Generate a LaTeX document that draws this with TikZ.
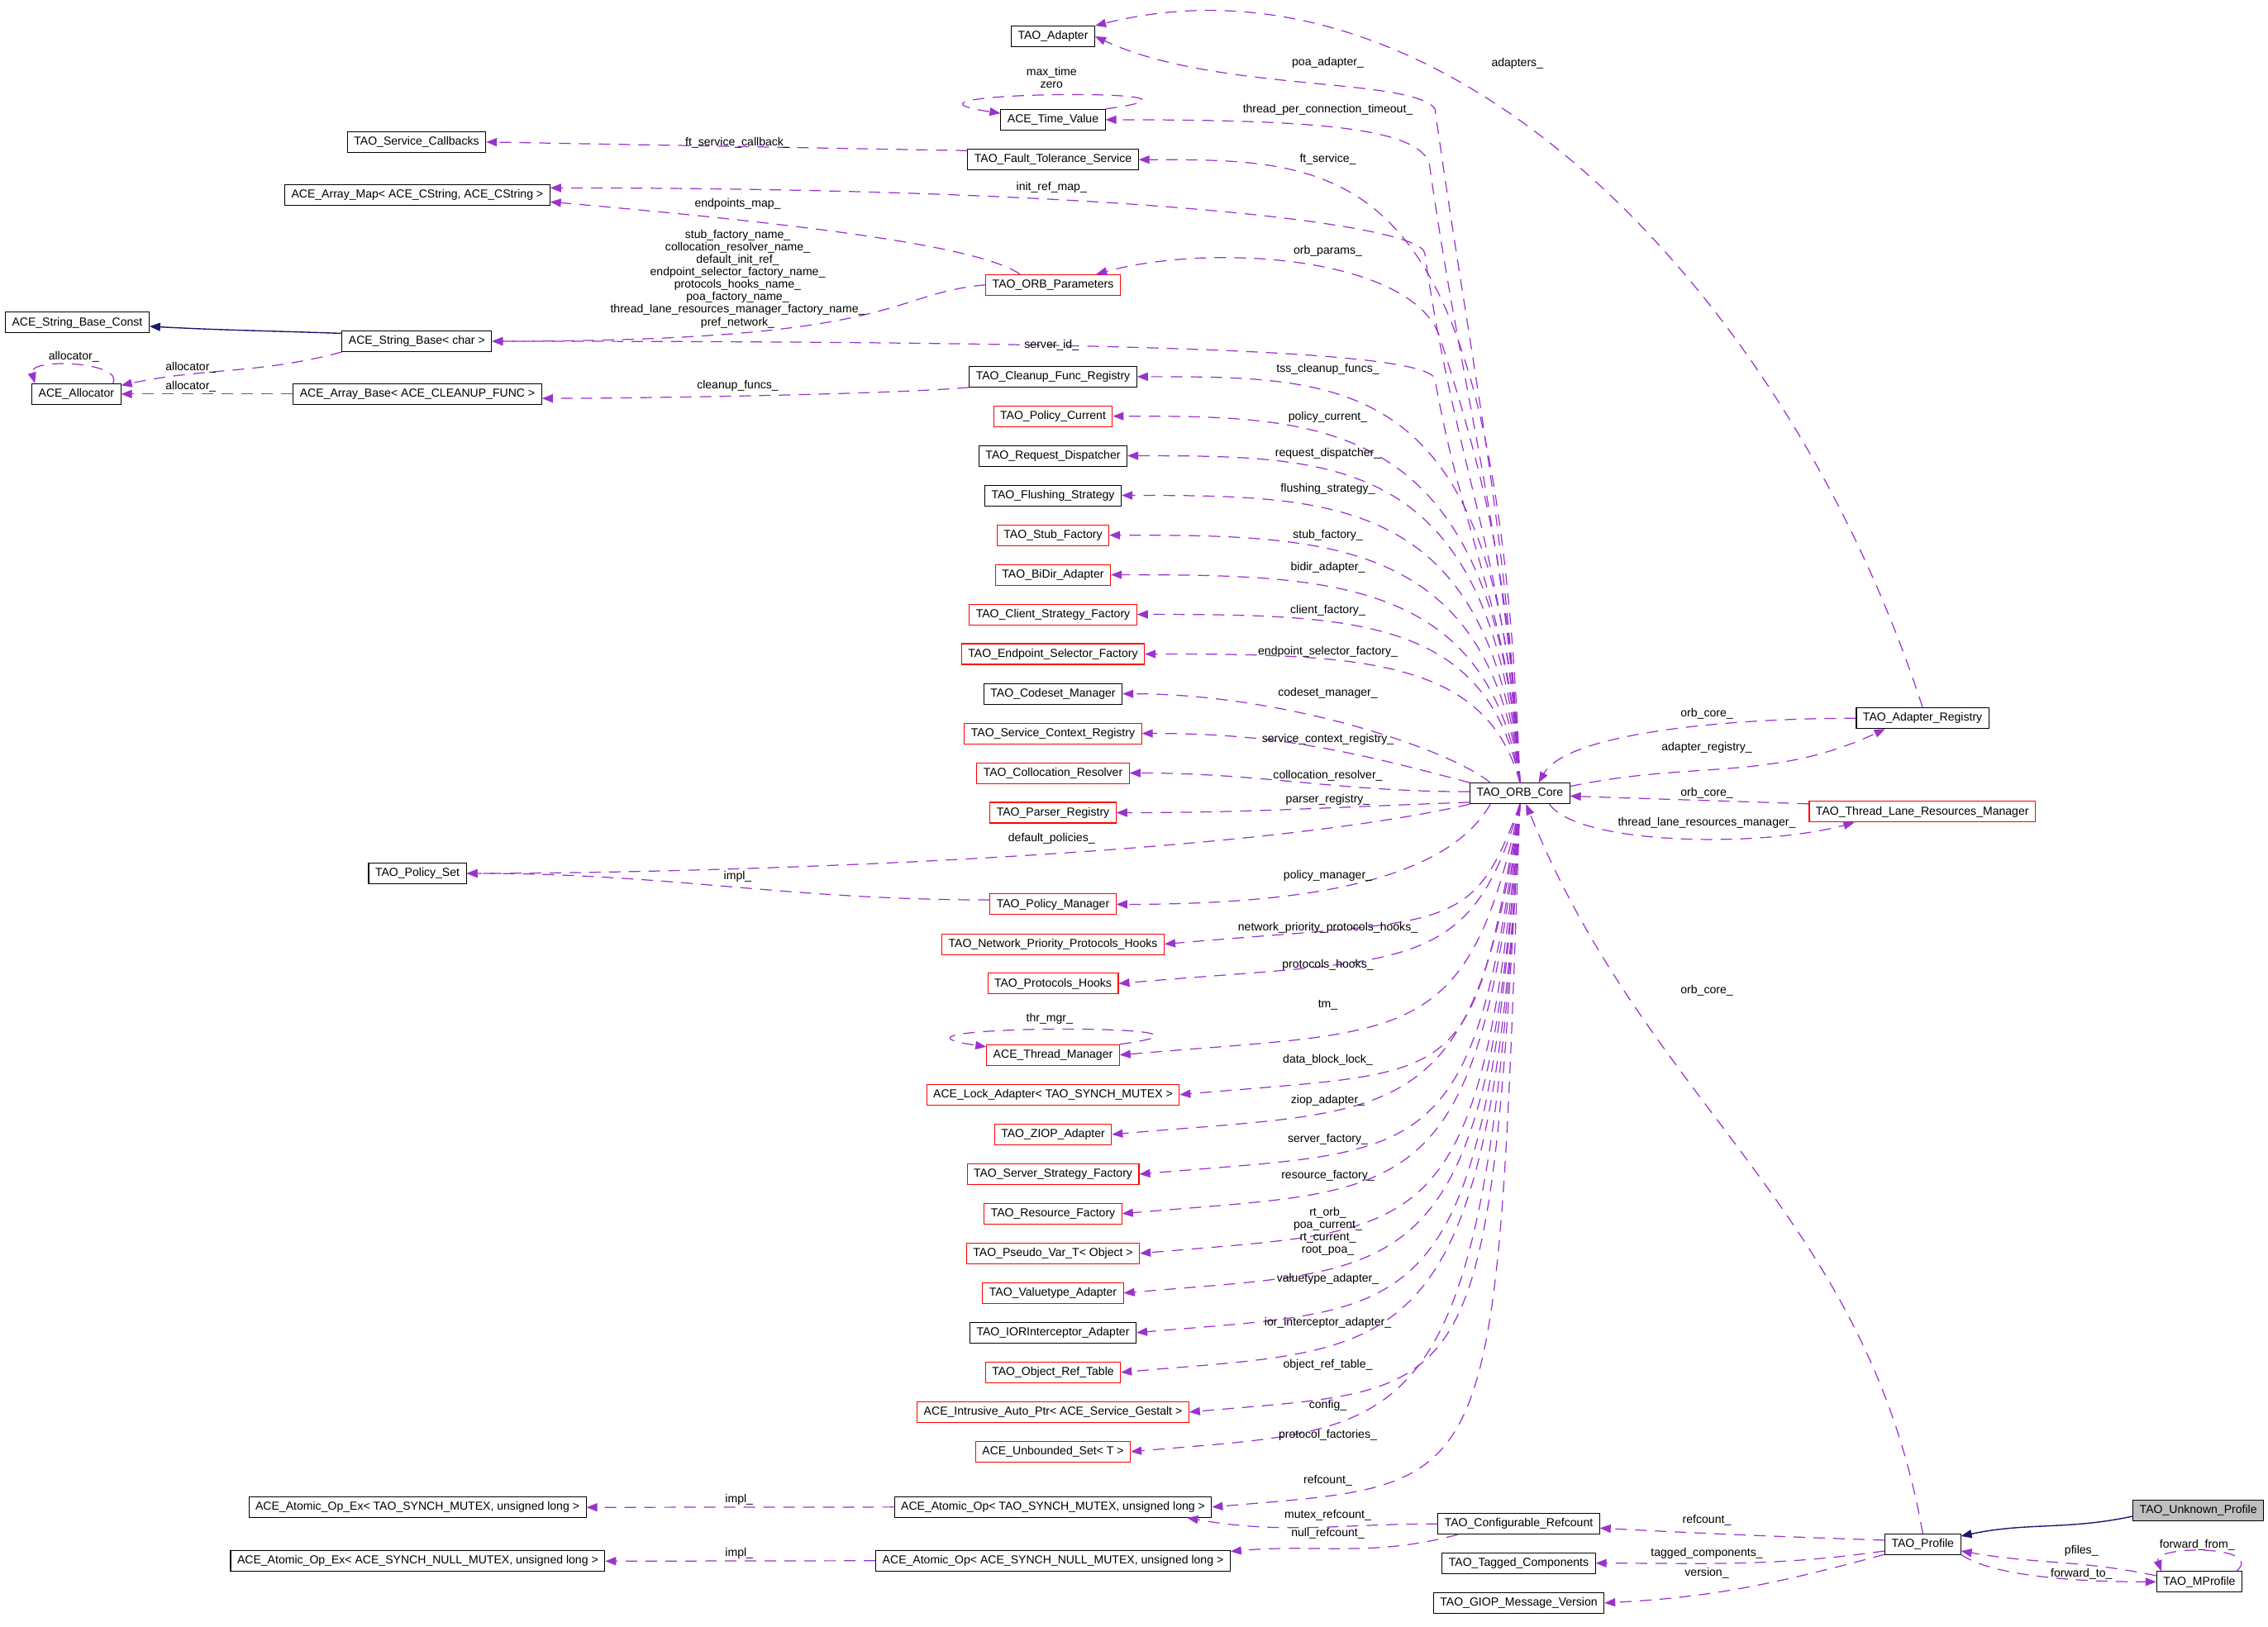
\documentclass[tikz,border=0pt]{standalone}
\usepackage{fontspec}
\setmainfont{Liberation Sans}
\usetikzlibrary{arrows.meta}

\definecolor{edgepurple}{HTML}{9A32CD}
\definecolor{edgenavy}{HTML}{191970}
\definecolor{boxgrey}{HTML}{BFBFBF}

\tikzset{
  cls/.style={draw=black, line width=0.3pt, font=\fontsize{4}{4.3}\selectfont,
    inner xsep=0.08cm, inner ysep=0pt, minimum height=0.25cm},
  clsred/.style={cls, draw=red},
  clsfocus/.style={cls, fill=boxgrey},
  member/.style={draw=edgepurple, line width=0.35pt, dash pattern=on 0.14cm off 0.1cm,
    -{Triangle[length=0.13cm, width=0.1cm]}},
  inherit/.style={draw=edgenavy, line width=0.4pt, -{Triangle[length=0.13cm, width=0.1cm]}},
  lbl/.style={font=\fontsize{4}{4.3}\selectfont, inner sep=0pt, align=center},
}

\begin{document}
\begin{tikzpicture}[x=0.0175cm, y=-0.0175cm]
\useasboundingbox (0,0) rectangle (1568,1125);

% left column
\node[cls] (sbconst) at (53.4,223.1) {ACE\_String\_Base\_Const};
\node[cls] (alloc)   at (52.8,272.5) {ACE\_Allocator};
\node[cls] (scb)     at (288,98.2)   {TAO\_Service\_Callbacks};
\node[cls] (amap)    at (288.5,134.8) {ACE\_Array\_Map< ACE\_CString, ACE\_CString >};
\node[cls] (sbase)   at (288.2,236)  {ACE\_String\_Base< char >};
\node[cls] (abase)   at (288.6,272.5) {ACE\_Array\_Base< ACE\_CLEANUP\_FUNC >};
\node[cls] (pset)    at (288.6,604)  {TAO\_Policy\_Set};
\node[cls] (aopx1)   at (288.6,1042.4) {ACE\_Atomic\_Op\_Ex< TAO\_SYNCH\_MUTEX, unsigned long >};
\node[cls] (aopx2)   at (288.8,1079.6) {ACE\_Atomic\_Op\_Ex< ACE\_SYNCH\_NULL\_MUTEX, unsigned long >};

% middle column
\foreach \nm/\st/\y/\txt in {
  adapter/cls/25.2/TAO\_Adapter,
  tv/cls/82.8/ACE\_Time\_Value,
  fts/cls/110.4/TAO\_Fault\_Tolerance\_Service,
  opar/clsred/197/TAO\_ORB\_Parameters,
  cfr/cls/260.5/TAO\_Cleanup\_Func\_Registry,
  pcur/clsred/287.8/TAO\_Policy\_Current,
  rdisp/cls/315.2/TAO\_Request\_Dispatcher,
  flush/cls/342.6/TAO\_Flushing\_Strategy,
  stubf/clsred/370.1/TAO\_Stub\_Factory,
  bidir/clsred/397.5/TAO\_BiDir\_Adapter,
  csf/clsred/424.9/TAO\_Client\_Strategy\_Factory,
  esf/clsred/452.3/TAO\_Endpoint\_Selector\_Factory,
  csm/cls/479.8/TAO\_Codeset\_Manager,
  scr/clsred/507.2/TAO\_Service\_Context\_Registry,
  colres/clsred/534.6/TAO\_Collocation\_Resolver,
  parser/clsred/562/TAO\_Parser\_Registry,
  pmgr/clsred/625.4/TAO\_Policy\_Manager,
  npph/clsred/652.9/TAO\_Network\_Priority\_Protocols\_Hooks,
  phooks/clsred/680.2/TAO\_Protocols\_Hooks,
  thrm/clsred/729.6/ACE\_Thread\_Manager,
  lock/clsred/757/ACE\_Lock\_Adapter< TAO\_SYNCH\_MUTEX >,
  ziop/clsred/784.5/TAO\_ZIOP\_Adapter,
  ssf/clsred/812/TAO\_Server\_Strategy\_Factory,
  resf/clsred/839.3/TAO\_Resource\_Factory,
  pvar/clsred/866.8/TAO\_Pseudo\_Var\_T< Object >,
  vta/clsred/894.2/TAO\_Valuetype\_Adapter,
  iora/cls/921.6/TAO\_IORInterceptor\_Adapter,
  oref/clsred/949/TAO\_Object\_Ref\_Table,
  iap/clsred/976.5/ACE\_Intrusive\_Auto\_Ptr< ACE\_Service\_Gestalt >,
  uset/clsred/1003.9/ACE\_Unbounded\_Set< T >}
  \node[\st] (\nm) at (728,\y) {\txt};
\node[cls] (aop1) at (728,1042.2) {ACE\_Atomic\_Op< TAO\_SYNCH\_MUTEX, unsigned long >};
\node[cls] (aop2) at (728,1079.3) {ACE\_Atomic\_Op< ACE\_SYNCH\_NULL\_MUTEX, unsigned long >};

% right side
\node[cls] (core) at (1050.8,548.7) {TAO\_ORB\_Core};
\node[cls] (areg) at (1329.2,496.7) {TAO\_Adapter\_Registry};
\node[clsred] (tlrm) at (1329,561.4) {TAO\_Thread\_Lane\_Resources\_Manager};
\node[cls] (cref) at (1050,1053.8) {TAO\_Configurable\_Refcount};
\node[cls] (tagged) at (1050,1081) {TAO\_Tagged\_Components};
\node[cls] (giop) at (1050,1108.5) {TAO\_GIOP\_Message\_Version};
\node[cls] (profile) at (1329.3,1067.9) {TAO\_Profile};
\node[clsfocus] (unknown) at (1519.8,1044.6) {TAO\_Unknown\_Profile};
\node[cls] (mprofile) at (1520.5,1093.9) {TAO\_MProfile};

% inheritance
\draw[inherit] (sbase.174) to[out=178, in=-3] (sbconst.-3);
\draw[inherit] (unknown.185) to[out=192, in=12] (profile.12);

% orb core members, upper fan
\foreach \tg/\y/\oa/\ly/\lb in {
  fts/110.4/92/110/ft\_service\_,
  cfr/260.5/93/255.2/tss\_cleanup\_funcs\_,
  pcur/287.8/94/288.5/policy\_current\_,
  rdisp/315.2/95/313.7/request\_dispatcher\_,
  flush/342.6/96/338.1/flushing\_strategy\_,
  stubf/370.1/97/370/stub\_factory\_,
  bidir/397.5/99/392.4/bidir\_adapter\_,
  csf/424.9/101/422.1/client\_factory\_,
  esf/452.3/105/450.6/endpoint\_selector\_factory\_}
{
  \pgfmathsetmacro\od{0.0175*(541.5-\y)}
  \draw[member] (core.north) to[out=\oa, in=0, out distance=\od cm, in distance=2.6cm] (\tg.east);
  \node[lbl] at (918,\ly) {\lb};
}
\draw[member] (core.north) to[out=93, in=-82] (992,75)
  to[out=130, in=-25, out distance=0.5cm, in distance=1.6cm] (adapter.east);
\node[lbl] at (918,43.4) {poa\_adapter\_};
\draw[member] (core.north) to[out=93, in=-82] (988,112)
  to[out=115, in=0, out distance=0.45cm, in distance=2.6cm] (tv.east);
\node[lbl] at (918,75.8) {thread\_per\_connection\_timeout\_};
\draw[member] (core.north) to[out=93, in=-82] (985,175)
  to[out=100, in=0, out distance=0.35cm, in distance=7cm] (amap.3);
\node[lbl] at (727,129.5) {init\_ref\_map\_};
\draw[member] (core.north) to[out=93, in=-72] (995,232)
  to[out=110, in=15, out distance=1cm, in distance=1.5cm] (opar.14);
\node[lbl] at (918,173.7) {orb\_params\_};
\draw[member] (core.north) to[out=93, in=-80] (992,262)
  to[out=110, in=0, out distance=0.35cm, in distance=8cm] (sbase.east);
\node[lbl] at (727,238.5) {server\_id\_};
\draw[member] (core.160) to[out=140, in=0, out distance=0.6cm, in distance=2cm] (csm.east);
\node[lbl] at (918,479.4) {codeset\_manager\_};
\draw[member] (core.north west) to[out=165, in=0] (scr.east);
\node[lbl] at (918,511.4) {service\_context\_registry\_};
\draw[member] (core.178) to[out=180, in=0] (colres.east);
\node[lbl] at (918,536.3) {collocation\_resolver\_};
\draw[member] (core.190) to[out=182, in=0] (parser.east);
\node[lbl] at (918,553.1) {parser\_registry\_};

% orb core members, lower fan
\draw[member] (core.south west) to[out=193, in=0, looseness=0.6] (pset.east);
\node[lbl] at (727,579.8) {default\_policies\_};
\draw[member] (core.200) to[out=-120, in=0, out distance=1cm, in distance=2.5cm] (pmgr.east);
\node[lbl] at (918,605.7) {policy\_manager\_};
\foreach \tg/\y/\oa/\ly/\lb in {
  npph/652.9/-110/641.9/network\_priority\_protocols\_hooks\_,
  phooks/680.2/-106/667.6/protocols\_hooks\_,
  thrm/729.6/-102/695.2/tm\_,
  lock/757/-100/733.3/data\_block\_lock\_,
  ziop/784.5/-98/761/ziop\_adapter\_,
  ssf/812/-97/788/server\_factory\_,
  resf/839.3/-96/813.3/resource\_factory\_,
  vta/894.2/-94/884.4/valuetype\_adapter\_,
  iora/921.6/-94/914.7/ior\_interceptor\_adapter\_,
  oref/949/-93/943.8/object\_ref\_table\_,
  iap/976.5/-93/972/config\_,
  uset/1003.9/-93/992.4/protocol\_factories\_,
  aop1/1042.2/-92/1023.8/refcount\_}
{
  \pgfmathsetmacro\od{0.0175*(\y-556)}
  \draw[member] (core.south) to[out=\oa, in=5, out distance=\od cm, in distance=3.5cm] (\tg.east);
  \node[lbl] at (918,\ly) {\lb};
}
\draw[member] (core.south) to[out=-95, in=5, out distance=5.4cm, in distance=3.5cm] (pvar.east);
\node[lbl] at (918,851.7) {rt\_orb\_\\poa\_current\_\\rt\_current\_\\root\_poa\_};

% registry, lanes, profiles
\draw[member] (core.8) to[out=12, in=-155] (areg.196);
\node[lbl] at (1180,517) {adapter\_registry\_};
\draw[member] (areg.west) to[out=180, in=60, in distance=0.7cm] (core.30);
\node[lbl] at (1180,493.7) {orb\_core\_};
\draw[member] (areg.north) to[out=108, in=14, out distance=5.25cm, in distance=4.4cm] (adapter.north east);
\node[lbl] at (1049,43.7) {adapters\_};
\draw[member] (tlrm.176) to[out=178, in=-2] (core.-3);
\node[lbl] at (1180,548.6) {orb\_core\_};
\draw[member] (core.-20) to[out=-55, in=-165, out distance=0.6cm, in distance=1.2cm] (tlrm.189);
\node[lbl] at (1180,569) {thread\_lane\_resources\_manager\_};
\draw[member] (profile.north) to[out=100, in=-68] (core.-60);
\node[lbl] at (1180,685) {orb\_core\_};
\draw[member] (profile.174) to[out=178, in=-3] (cref.-3);
\node[lbl] at (1180,1051.4) {refcount\_};
\draw[member] (profile.190) to[out=188, in=0] (tagged.east);
\node[lbl] at (1180,1074.3) {tagged\_components\_};
\draw[member] (profile.195) to[out=-165, in=3] (giop.east);
\node[lbl] at (1180,1088) {version\_};
\draw[member] (mprofile.172) to[out=168, in=-10] (profile.-10);
\node[lbl] at (1439,1072.4) {pfiles\_};
\draw[member] (profile.-15) to[out=-35, in=180, out distance=0.5cm, in distance=0.8cm] (mprofile.west);
\node[lbl] at (1439,1088.2) {forward\_to\_};
\draw[member] ([xshift=-0.07cm]mprofile.north east) .. controls +(20,-18) and +(-6,-18) .. ([xshift=0.06cm]mprofile.north west);
\node[lbl] at (1519,1068.2) {forward\_from\_};

% refcount classes
\draw[member] (cref.west) to[out=180, in=-10] ([xshift=-0.3cm]aop1.south east);
\node[lbl] at (918,1047.6) {mutex\_refcount\_};
\draw[member] (cref.190) to[out=195, in=5] (aop2.3);
\node[lbl] at (918,1060.5) {null\_refcount\_};
\draw[member] (aop1.west) -- (aopx1.east);
\node[lbl] at (511,1037) {impl\_};
\draw[member] (aop2.west) -- (aopx2.east);
\node[lbl] at (511,1074) {impl\_};

% left side members
\draw[member] (fts.174) -- (scb.east);
\node[lbl] at (510,98.7) {ft\_service\_callback\_};
\draw[member] (opar.162) to[out=145, in=-5, out distance=0.6cm, in distance=3cm] (amap.-3);
\node[lbl] at (510,141) {endpoints\_map\_};
\draw[member] (opar.west) to[out=185, in=0, out distance=1.2cm, in distance=5cm] (sbase.east);
\node[lbl] at (510,192.9) {stub\_factory\_name\_\\collocation\_resolver\_name\_\\default\_init\_ref\_\\endpoint\_selector\_factory\_name\_\\protocols\_hooks\_name\_\\poa\_factory\_name\_\\thread\_lane\_resources\_manager\_factory\_name\_\\pref\_network\_};
\draw[member] (cfr.south west) to[out=185, in=0, looseness=0.5] (abase.-2);
\node[lbl] at (510,267) {cleanup\_funcs\_};
\draw[member] (pmgr.176) to[out=180, in=0] (pset.east);
\node[lbl] at (510,606) {impl\_};
\draw[member] (sbase.south west) to[out=195, in=12] (alloc.11);
\node[lbl] at (131.9,253.9) {allocator\_};
\draw[member] (abase.west) -- (alloc.east);
\node[lbl] at (131.9,267.6) {allocator\_};

% self loops
\draw[member] ([xshift=-0.1cm]alloc.north east) .. controls +(8,-15) and +(-5,-18) .. ([xshift=0.04cm]alloc.north west);
\node[lbl] at (51,246.5) {allocator\_};
\draw[member] (tv.north east) .. controls +(110,-15) and +(-100,-15) .. (tv.173);
\node[lbl] at (727,53.5) {max\_time\\zero};
\draw[member] (thrm.north east) .. controls +(110,-15) and +(-100,-15) .. (thrm.173);
\node[lbl] at (725.6,704.4) {thr\_mgr\_};
\end{tikzpicture}
\end{document}
